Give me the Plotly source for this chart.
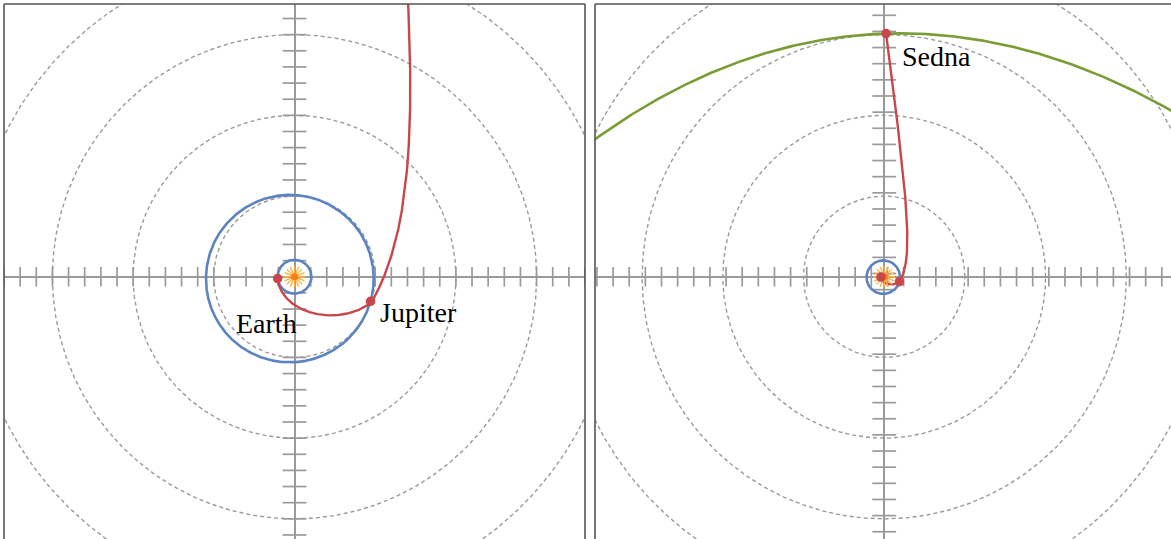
import numpy as np
import plotly.graph_objects as go

# ---------------- data (AU / degrees) ----------------
# orbits as conics around the Sun: semi-latus rectum, eccentricity, perihelion angle
orbit_names = ["Earth", "Jupiter", "Sedna"]
orbit_p = [1.05, 5.18, 143.7]
orbit_e = [0.0, 0.06, 0.91]
orbit_w = [0.0, 22.0, 94.1]
orbit_colors = ["#5B84C0", "#5B84C0", "#7B9C34"]

# positions of the bodies on their orbits (polar angle, deg)
planet_angle = [186.0, -17.9, 89.57]

# transfer legs Earth->Jupiter, Jupiter->Sedna (conics with Sun at focus)
leg_p = [1.767, 11.66]
leg_e = [0.686, 1.396]
leg_w = [180.8, -37.7]
leg_start = [186.0, -17.9]
leg_end = [342.1, 89.57]

# labels
label_text = ["Earth", "Jupiter", "Sedna"]
label_panel = [0, 0, 1]
label_x = [-1.73, 5.2, 4.92]
label_y = [-2.9, -2.19, 68.3]
label_anchor = ["center", "left", "left"]

# panel setup
panel_xrange = [[-18.0, 18.0], [-89.6, 88.85]]
panel_yrange = [[-16.25, 16.9], [-81.25, 84.5]]
tick_step = [1, 5]
ring_step = [5, 25]
ring_count = [5, 5]

RED = "#C8474A"
GRAY = "#9A9A9A"


def conic(p, e, w, theta_deg):
    th = np.radians(theta_deg)
    r = p / (1 + e * np.cos(th - np.radians(w)))
    return r * np.cos(th), r * np.sin(th)


fig = go.Figure()
W, H = 1171, 539
doms = [[4 / W, 585 / W], [595 / W, 1.0]]

for k in range(2):
    xa = "x" if k == 0 else "x2"
    ya = "y" if k == 0 else "y2"

    # dashed reference rings
    t = np.linspace(0, 360, 721)
    for n in range(1, ring_count[k] + 1):
        rx, ry = conic(ring_step[k] * n, 0.0, 0.0, t)
        fig.add_trace(go.Scatter(x=rx, y=ry, mode="lines", xaxis=xa, yaxis=ya,
                                 line=dict(color=GRAY, width=1.4, dash="4px,3px"),
                                 hoverinfo="skip", showlegend=False))

    # tick crosses on the axes
    lim = int(max(abs(panel_xrange[k][0]), abs(panel_xrange[k][1]),
                  abs(panel_yrange[k][0]), abs(panel_yrange[k][1])))
    ks = [v for v in range(-lim, lim + 1, tick_step[k]) if v != 0]
    fig.add_trace(go.Scatter(x=ks, y=[0] * len(ks), mode="markers", xaxis=xa, yaxis=ya,
                             marker=dict(symbol="line-ns", size=14,
                                         line=dict(color=GRAY, width=1.7)),
                             hoverinfo="skip", showlegend=False))
    fig.add_trace(go.Scatter(x=[0] * len(ks), y=ks, mode="markers", xaxis=xa, yaxis=ya,
                             marker=dict(symbol="line-ew", size=17,
                                         line=dict(color=GRAY, width=1.7)),
                             hoverinfo="skip", showlegend=False))

    # orbits
    for i in range(3):
        tt = np.linspace(0, 360, 3001)
        ox, oy = conic(orbit_p[i], orbit_e[i], orbit_w[i], tt)
        fig.add_trace(go.Scatter(x=ox, y=oy, mode="lines", xaxis=xa, yaxis=ya,
                                 line=dict(color=orbit_colors[i], width=2.6),
                                 name=orbit_names[i], showlegend=False))

    # transfer legs
    for j in range(2):
        tt = np.linspace(leg_start[j], leg_end[j], 1500)
        lx, ly = conic(leg_p[j], leg_e[j], leg_w[j], tt)
        fig.add_trace(go.Scatter(x=lx, y=ly, mode="lines", xaxis=xa, yaxis=ya,
                                 line=dict(color=RED, width=2.4),
                                 showlegend=False))

    # Sun
    for ang in (0, 22.5):
        fig.add_trace(go.Scatter(x=[0], y=[0], mode="markers", xaxis=xa, yaxis=ya,
                                 marker=dict(symbol="asterisk-open", size=18, angle=ang,
                                             color="#FFB13B",
                                             line=dict(color="#FFB13B", width=1.3)),
                                 showlegend=False))
    fig.add_trace(go.Scatter(x=[0], y=[0], mode="markers", xaxis=xa, yaxis=ya,
                             marker=dict(symbol="circle", size=7, color="#FF7A1A"),
                             showlegend=False))

    # planet dots
    px, py = [], []
    for i in range(3):
        a, b = conic(orbit_p[i], orbit_e[i], orbit_w[i], planet_angle[i])
        px.append(float(a))
        py.append(float(b))
    fig.add_trace(go.Scatter(x=px, y=py, mode="markers", xaxis=xa, yaxis=ya,
                             marker=dict(symbol="circle", size=9.5, color=RED),
                             showlegend=False))

# labels
for i in range(3):
    k = label_panel[i]
    fig.add_annotation(x=label_x[i], y=label_y[i], text=label_text[i],
                       xref="x" if k == 0 else "x2", yref="y" if k == 0 else "y2",
                       xanchor=label_anchor[i], yanchor="middle", showarrow=False,
                       font=dict(family="Liberation Serif", size=28, color="black"))

axis_common = dict(showgrid=False, showticklabels=False, ticks="", showline=False,
                   zeroline=True, zerolinecolor=GRAY, zerolinewidth=2, fixedrange=True)
fig.update_layout(
    width=W, height=H,
    margin=dict(l=0, r=0, t=4, b=0),
    paper_bgcolor="white", plot_bgcolor="white",
    showlegend=False,
    xaxis=dict(domain=doms[0], range=panel_xrange[0], anchor="y", **axis_common),
    yaxis=dict(domain=[0, 1], range=panel_yrange[0], anchor="x", **axis_common),
    xaxis2=dict(domain=doms[1], range=panel_xrange[1], anchor="y2", **axis_common),
    yaxis2=dict(domain=[0, 1], range=panel_yrange[1], anchor="x2", **axis_common),
)

# panel frames (no bottom edge visible in the view)
frame = dict(type="line", line=dict(color="#555555", width=1.6), layer="above")
for xr, yr, sides in (("x domain", "y domain", ["l", "t", "r"]),
                      ("x2 domain", "y2 domain", ["l", "t"])):
    if "l" in sides:
        fig.add_shape(xref=xr, yref=yr, x0=0, x1=0, y0=0, y1=1, **frame)
    if "t" in sides:
        fig.add_shape(xref=xr, yref=yr, x0=0, x1=1, y0=1, y1=1, **frame)
    if "r" in sides:
        fig.add_shape(xref=xr, yref=yr, x0=1, x1=1, y0=0, y1=1, **frame)

fig.write_html(
    "out.html",
    config={"displayModeBar": False},
    post_script="document.body.style.margin='0';document.body.style.overflow='hidden';",
)
